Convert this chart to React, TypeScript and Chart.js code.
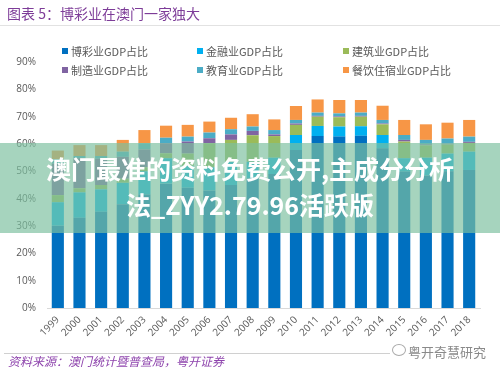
import React, { useEffect, useRef } from "react";
import { Chart, registerables } from "chart.js";

Chart.register(...registerables);

const years = ["1999","2000","2001","2002","2003","2004","2005","2006","2007","2008","2009","2010","2011","2012","2013","2014","2015","2016","2017","2018"];
const gambling = [30.1,33.0,35.2,38.0,41.5,45.5,44.0,43.0,45.0,47.5,49.0,57.8,62.9,62.7,63.0,58.4,49.9,48.5,50.0,50.5];
const finance = [8.6,9.3,8.2,7.8,8.5,9.3,8.0,8.5,8.5,6.0,6.0,5.5,3.7,3.7,3.5,4.9,4.9,6.5,6.5,6.7];
const construction = [2.6,1.5,1.6,1.5,1.5,1.8,4.5,8.8,8.0,9.7,7.9,3.7,3.4,3.4,3.5,3.9,6.1,4.5,3.3,3.2];
const manufacturing = [11.5,11.0,9.6,8.0,6.5,3.7,4.4,1.8,2.0,1.6,0.6,0.5,0.3,0.3,0.3,0.3,0.6,0.4,0.3,0.4];
const education = [1.6,0.8,1.0,1.9,2.3,2.0,1.8,2.1,1.9,1.6,1.6,1.3,1.2,1.1,1.2,1.3,1.8,1.6,1.9,1.9];
const hospitality = [3.2,4.0,4.0,4.3,4.8,4.4,4.3,4.0,4.2,4.5,3.9,5.1,4.8,4.9,4.6,5.2,5.5,5.7,5.8,6.1];

const seriesNames = ["博彩业GDP占比","金融业GDP占比","建筑业GDP占比","制造业GDP占比","教育业GDP占比","餐饮住宿业GDP占比"];
const seriesColors = ["#0070C0","#00B0F0","#9BBB59","#8064A2","#4BACC6","#F79646"];
const seriesData = [gambling, finance, construction, manufacturing, education, hospitality];

const titleText = "图表 5：博彩业在澳门一家独大";
const sourceText = "资料来源：澳门统计暨普查局，粤开证券";
const logoText = "粤开奇慧研究";
const watermarkLines = ["澳门最准的资料免费公开,主成分分析", "法_ZYY2.79.96活跃版"];

const legendCols = [62, 197, 343];
const legendRows = [51, 70];

export default function App() {
  const ref = useRef<HTMLCanvasElement>(null);
  useEffect(() => {
    document.body.style.margin = "0";
    const chart = new Chart(ref.current as HTMLCanvasElement, {
      type: "bar",
      data: {
        labels: years,
        datasets: seriesNames.map((name, i) => ({
          label: name,
          data: seriesData[i],
          backgroundColor: seriesColors[i],
          borderWidth: 0,
          barPercentage: 0.56,
          categoryPercentage: 1,
        })),
      },
      options: {
        animation: false,
        responsive: false,
        layout: { padding: { top: 62, right: 20, left: 0, bottom: 0 } },
        plugins: { legend: { display: false }, tooltip: { enabled: false } },
        scales: {
          x: {
            stacked: true,
            grid: { display: false, drawTicks: false },
            border: { display: true, color: "#d9d9d9", width: 1 },
            ticks: {
              autoSkip: false,
              minRotation: 45,
              maxRotation: 45,
              padding: 6,
              color: "#595959",
              font: { family: "'Open Sans', sans-serif", size: 10 },
            },
            afterFit: (s: any) => { s.height = 71; },
          },
          y: {
            stacked: true,
            min: 0,
            max: 90,
            grid: { display: false, drawTicks: false },
            border: { display: false },
            ticks: {
              stepSize: 10,
              padding: 11,
              color: "#595959",
              font: { family: "'Open Sans', sans-serif", size: 10 },
              callback: (v: any) => v + "%",
            },
            afterFit: (s: any) => { s.width = 47; },
          },
        },
      },
    } as any);
    return () => chart.destroy();
  }, []);

  return (
    <div style={{ position: "fixed", left: 0, top: 0, width: 500, height: 379, background: "#fff", overflow: "hidden", fontFamily: "'Noto Sans CJK SC', sans-serif" }}>
      <canvas ref={ref} width={500} height={379} style={{ position: "absolute", left: 0, top: 0, width: 500, height: 379 }} />
      <div style={{ position: "absolute", left: 7, top: 5, fontSize: 14, lineHeight: "16px", color: "#7D3C98", fontWeight: 400, whiteSpace: "nowrap" }}>{titleText}</div>
      <div style={{ position: "absolute", left: 0, top: 25, width: 500, height: 1, background: "#e2e2e2" }} />
      {seriesNames.map((name, i) => (
        <div key={name} style={{ position: "absolute", left: legendCols[i % 3], top: legendRows[Math.floor(i / 3)] - 7, height: 14, display: "flex", alignItems: "center", whiteSpace: "nowrap" }}>
          <span style={{ display: "inline-block", width: 6, height: 6, background: seriesColors[i], marginRight: 3 }} />
          <span style={{ fontSize: 11, lineHeight: "14px", color: "#595959" }}>{name}</span>
        </div>
      ))}
      <div style={{ position: "absolute", left: 0, top: 143, width: 500, height: 90, background: "rgba(124,192,159,0.68)" }} />
      <div style={{ position: "absolute", left: 0, top: 150, width: 500, textAlign: "center", color: "#fff", fontWeight: 700, fontSize: 25, lineHeight: "36px", whiteSpace: "nowrap" }}>
        <div>{watermarkLines[0]}</div>
        <div>{watermarkLines[1]}</div>
      </div>
      <div style={{ position: "absolute", left: 4, top: 353, width: 386, height: 1, background: "#d0d0d0" }} />
      <div style={{ position: "absolute", left: 8, top: 354, fontSize: 12, lineHeight: "14px", fontStyle: "italic", color: "#8E44AD", whiteSpace: "nowrap" }}>{sourceText}</div>
      <div style={{ position: "absolute", left: 392, top: 344, width: 12, height: 10, borderRadius: "50%", border: "1px solid #aaa" }} />
      <div style={{ position: "absolute", left: 408, top: 344, fontSize: 13, lineHeight: "16px", color: "#8a8a8a", whiteSpace: "nowrap" }}>{logoText}</div>
    </div>
  );
}
